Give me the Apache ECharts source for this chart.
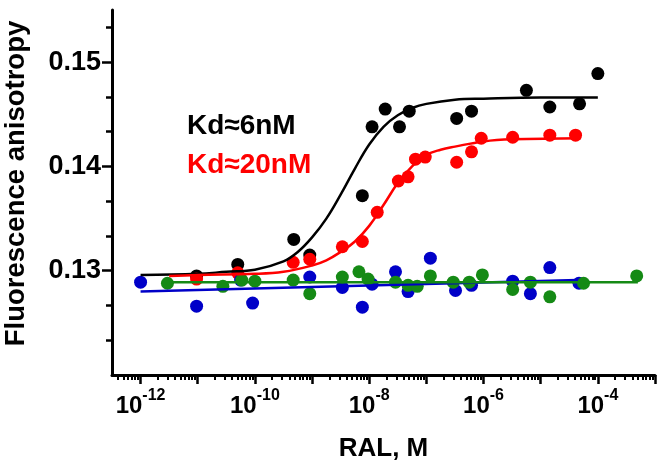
<!DOCTYPE html>
<html><head><meta charset="utf-8">
<script src="https://cdn.jsdelivr.net/npm/echarts@6/dist/echarts.min.js"></script>
<style>html,body{margin:0;padding:0;background:#fff}#c{width:664px;height:469px}</style>
</head><body><div id="c"></div><script>
// x values are log10 of RAL concentration (M)
const xLabelExponents = [-12, -10, -8, -6, -4];
const yLabelValues = [0.13, 0.14, 0.15];

const blackPoints = [[-11.02,0.1295],[-10.3,0.1306],[-9.32,0.1330],[-9.04,0.1315],[-8.12,0.1372],[-7.95,0.1438],[-7.72,0.1455],[-7.47,0.1438],[-7.30,0.1453],[-6.47,0.1446],[-6.21,0.1453],[-5.25,0.1473],[-4.84,0.1457],[-4.32,0.1460],[-4.0,0.1489]];
const redPoints = [[-11.02,0.1292],[-10.3,0.1298],[-9.33,0.1308],[-9.04,0.1311],[-8.47,0.1323],[-8.12,0.1328],[-7.86,0.1356],[-7.49,0.1386],[-7.32,0.1390],[-7.19,0.1407],[-7.02,0.1409],[-6.47,0.1404],[-6.21,0.1414],[-6.04,0.1427],[-5.49,0.1428],[-4.84,0.1430],[-4.39,0.1430]];
const bluePoints = [[-12.0,0.1289],[-11.02,0.1266],[-10.25,0.1291],[-10.04,0.1269],[-9.04,0.1294],[-8.47,0.1284],[-8.12,0.1265],[-7.95,0.1287],[-7.54,0.1299],[-7.32,0.1280],[-6.93,0.1312],[-6.49,0.1281],[-6.21,0.1286],[-5.49,0.1290],[-5.18,0.1278],[-4.84,0.1303],[-4.33,0.1288]];
const greenPoints = [[-11.53,0.1288],[-10.56,0.1285],[-10.23,0.1291],[-10.0,0.1290],[-9.33,0.1291],[-9.04,0.1278],[-8.47,0.1294],[-8.18,0.1299],[-8.02,0.1292],[-7.54,0.1289],[-7.32,0.1286],[-7.16,0.1285],[-6.93,0.1295],[-6.53,0.1289],[-6.25,0.1289],[-6.02,0.1296],[-5.49,0.1282],[-5.18,0.1289],[-4.84,0.1275],[-4.25,0.1288],[-3.32,0.1295]];

const blackFit = [[-12,0.1296],[-11,0.1297],[-10.5,0.1299],[-10,0.1301],[-9.5,0.1309],[-9.25,0.1318],[-9,0.1332],[-8.75,0.1350],[-8.5,0.1373],[-8.25,0.1398],[-8,0.1421],[-7.75,0.1438],[-7.5,0.1449],[-7.25,0.1456],[-7,0.1460],[-6.5,0.1464],[-6,0.1465],[-5,0.1466],[-4,0.1466]];
const redFit = [[-11.5,0.1295],[-11,0.1296],[-10,0.1297],[-9.5,0.1299],[-9,0.1305],[-8.75,0.1310],[-8.5,0.1318],[-8.25,0.1328],[-8,0.1343],[-7.75,0.1363],[-7.5,0.1384],[-7.25,0.1400],[-7,0.1411],[-6.75,0.1416],[-6.5,0.1419],[-6,0.1424],[-5.5,0.1426],[-4.3,0.1427]];
const blueFit = [[-12,0.1280],[-4.35,0.1291]];
const greenFit = [[-11.5,0.1289],[-3.3,0.1289]];

const xMin = -12.5, xMax = -3, yMin = 0.12, yMax = 0.155;
const xMajorTicks = [];
const xMinorTicks = [];
for (let n = -13; n <= -3; n++) {
  if (n >= xMin && n <= xMax) xMajorTicks.push(n);
  for (let k = 2; k <= 9; k++) {
    const v = n + Math.log10(k);
    if (v > xMin && v < xMax) xMinorTicks.push(v);
  }
}
const yMinorTicks = [];
for (let i = 1; i <= 10; i++) { const v = yMin + i * 0.01 / 3; if (i % 3 !== 0 && v < yMax) yMinorTicks.push(v); }

const FONT = 'Liberation Sans';
const chart = echarts.init(document.getElementById('c'));
const grid = { left: 112, right: 9, top: 10, bottom: 94, containLabel: false, outerBoundsMode: 'none' };
const axisLineStyle = { color: '#000', width: 3 };
chart.setOption({
  animation: false,
  backgroundColor: '#fff',
  grid: grid,
  xAxis: [{
    type: 'value', min: xMin, max: xMax, position: 'bottom',
    name: 'RAL, M', nameLocation: 'middle', nameGap: 61,
    nameTextStyle: { fontFamily: FONT, fontWeight: 'bold', fontSize: 26, color: '#000' },
    axisLine: { show: true, lineStyle: axisLineStyle },
    axisTick: { show: true, customValues: xMajorTicks, length: 9, lineStyle: { color: '#000', width: 2.5 } },
    axisLabel: {
      customValues: xLabelExponents, margin: 13, color: '#000',
      formatter: v => '{b|10}{s|' + v + '}',
      rich: {
        b: { fontFamily: FONT, fontWeight: 'bold', fontSize: 24, color: '#000', verticalAlign: 'bottom', lineHeight: 30 },
        s: { fontFamily: FONT, fontWeight: 'bold', fontSize: 16, color: '#000', verticalAlign: 'top', lineHeight: 30 }
      }
    },
    splitLine: { show: false }
  }, {
    type: 'value', min: xMin, max: xMax, position: 'bottom',
    axisLine: { show: false },
    axisTick: { show: true, customValues: xMinorTicks, length: 5, lineStyle: { color: '#000', width: 2 } },
    axisLabel: { show: false }, splitLine: { show: false }
  }],
  yAxis: [{
    type: 'value', min: yMin, max: yMax, position: 'left',
    name: 'Fluorescence anisotropy', nameLocation: 'middle', nameGap: 82, nameRotate: 90,
    nameTextStyle: { fontFamily: FONT, fontWeight: 'bold', fontSize: 27.5, color: '#000', padding: [0, 0, 0, 18] },
    axisLine: { show: true, lineStyle: axisLineStyle },
    axisTick: { show: true, customValues: yLabelValues, length: 10, lineStyle: { color: '#000', width: 2.5 } },
    axisLabel: { customValues: yLabelValues, margin: 11, fontFamily: FONT, fontWeight: 'bold', fontSize: 27, color: '#000', formatter: v => v.toFixed(2) },
    splitLine: { show: false }
  }, {
    type: 'value', min: yMin, max: yMax, position: 'left',
    axisLine: { show: false },
    axisTick: { show: true, customValues: yMinorTicks, length: 6, lineStyle: { color: '#000', width: 2.5 } },
    axisLabel: { show: false }, splitLine: { show: false }
  }],
  graphic: [
    { type: 'text', left: 187, top: 112, style: { text: 'Kd≈6nM', font: 'bold 28px "Liberation Sans"', fill: '#000' } },
    { type: 'text', left: 187, top: 151, style: { text: 'Kd≈20nM', font: 'bold 28px "Liberation Sans"', fill: '#ff0000' } }
  ],
  series: [
    { type: 'scatter', data: blackPoints, symbolSize: 13, itemStyle: { color: '#000', opacity: 1 } },
    { type: 'line', data: blackFit, smooth: 0.4, symbol: 'none', lineStyle: { color: '#000', width: 2.5 } },
    { type: 'scatter', data: redPoints, symbolSize: 13, itemStyle: { color: '#ff0000', opacity: 1 } },
    { type: 'line', data: redFit, smooth: 0.4, symbol: 'none', lineStyle: { color: '#ff0000', width: 2.5 } },
    { type: 'scatter', data: bluePoints, symbolSize: 13, itemStyle: { color: '#0000c8', opacity: 1 } },
    { type: 'line', data: blueFit, symbol: 'none', lineStyle: { color: '#0000c8', width: 2.5 } },
    { type: 'scatter', data: greenPoints, symbolSize: 13, itemStyle: { color: '#158a15', opacity: 1 } },
    { type: 'line', data: greenFit, symbol: 'none', lineStyle: { color: '#158a15', width: 2.5 } }
  ]
});
</script></body></html>
